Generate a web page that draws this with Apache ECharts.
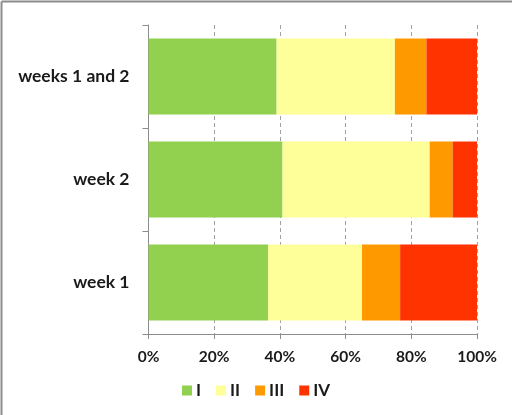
<!DOCTYPE html>
<html>
<head>
<meta charset="utf-8">
<script src="https://cdn.jsdelivr.net/npm/echarts@6/dist/echarts.min.js"></script>
<style>
  html, body { margin: 0; padding: 0; background: #fff; }
  #chart { width: 512px; height: 415px; }
</style>
</head>
<body>
<div id="chart"></div>
<script>
// Categories listed bottom to top on the vertical axis
const categories = ['week 1', 'week 2', 'weeks 1 and 2'];
const seriesNames = ['I', 'II', 'III', 'IV'];
// Percent share of each class per period
const valuesI   = [36.4, 40.8, 39.0];
const valuesII  = [28.6, 44.8, 36.0];
const valuesIII = [11.6,  7.0,  9.6];
const valuesIV  = [23.4,  7.4, 15.4];
const tickLabels = ['0%', '20%', '40%', '60%', '80%', '100%'];
const colors = ['#92D050', '#FFFF99', '#FF9900', '#FF3300'];

const seriesValues = [valuesI, valuesII, valuesIII, valuesIV];
const FONT = 'Lato';

const chart = echarts.init(document.getElementById('chart'), null, { renderer: 'canvas' });
chart.setOption({
  animation: false,
  backgroundColor: '#ffffff',
  textStyle: { fontFamily: FONT },
  graphic: [
    { type: 'line', shape: { x1: 1.5, y1: 1.5, x2: 1.5, y2: 415 }, style: { stroke: '#8c8c8c', lineWidth: 2 } },
    { type: 'line', shape: { x1: 1.5, y1: 1.5, x2: 512, y2: 1.5 }, style: { stroke: '#8c8c8c', lineWidth: 2 } }
  ],
  grid: { left: 148.5, right: 35, top: 25, bottom: 81, containLabel: false },
  legend: {
    data: seriesNames,
    left: 177,
    top: 377,
    itemWidth: 10,
    itemHeight: 10,
    itemGap: 15,
    icon: 'rect',
    textStyle: { fontFamily: FONT, fontWeight: 'bold', fontSize: 17, color: '#1a1a1a', padding: [0, 0, 0, -1] }
  },
  xAxis: {
    type: 'value',
    min: 0,
    max: 100,
    interval: 20,
    axisLine: { show: true, lineStyle: { color: '#8c8c8c', width: 1 } },
    axisTick: { show: true, length: 5, lineStyle: { color: '#8c8c8c' } },
    splitLine: { show: true, lineStyle: { color: '#a0a0a0', type: [4, 3], width: 1 } },
    axisLabel: {
      margin: 15,
      fontFamily: FONT,
      fontWeight: 'bold',
      fontSize: 15.5,
      color: '#1a1a1a',
      formatter: function (v) { return tickLabels[Math.round(v / 20)]; }
    }
  },
  yAxis: {
    type: 'category',
    data: categories,
    axisLine: { show: true, lineStyle: { color: '#8c8c8c', width: 1 } },
    axisTick: { show: true, length: 6, lineStyle: { color: '#8c8c8c' } },
    axisLabel: {
      margin: 19,
      fontFamily: FONT,
      fontWeight: 'bold',
      fontSize: 17.5,
      color: '#1a1a1a'
    }
  },
  series: seriesNames.map(function (name, i) {
    return {
      name: name,
      type: 'bar',
      stack: 'total',
      barWidth: '74%',
      itemStyle: { color: colors[i] },
      data: seriesValues[i]
    };
  })
});
</script>
</body>
</html>
